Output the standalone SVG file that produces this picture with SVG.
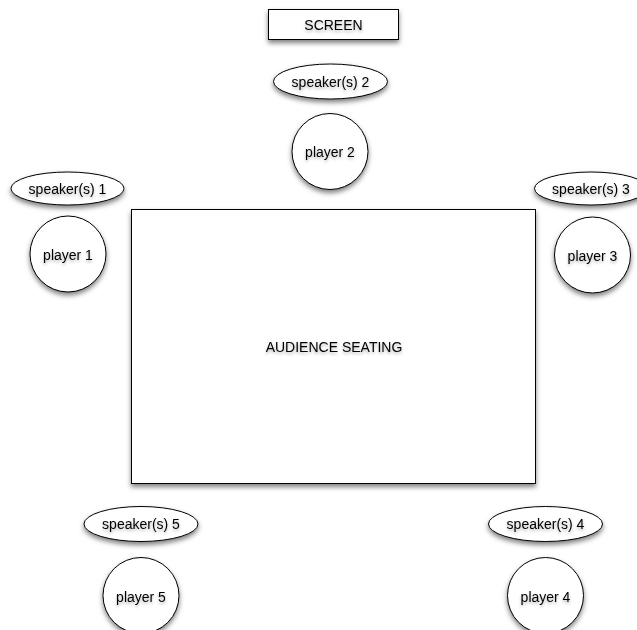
<svg xmlns="http://www.w3.org/2000/svg" width="637" height="630" viewBox="0 0 637 630">
<defs>
<filter id="sh" x="-30%" y="-30%" width="160%" height="170%">
<feDropShadow dx="0" dy="3" stdDeviation="2.5" flood-color="#000" flood-opacity="0.5"/>
</filter>
<filter id="ts" x="-10%" y="-30%" width="120%" height="170%">
<feDropShadow dx="0" dy="2" stdDeviation="1.5" flood-color="#000" flood-opacity="0.3"/>
</filter>
<style>
.s{fill:#fff;stroke:#000;stroke-width:1}
.t{font-family:"Liberation Sans",Arial,sans-serif;font-size:14px;fill:#000;text-anchor:middle;dominant-baseline:central;filter:url(#ts)}
.g{filter:url(#sh)}
</style>
</defs>
<rect width="637" height="630" fill="#fff"/>
<g id="screen"><rect class="s g" x="268.5" y="9.5" width="130" height="30"/><text class="t" x="333.5" y="24.5">SCREEN</text></g>
<g id="audience"><rect class="s g" x="131.5" y="209.5" width="404" height="274"/><text class="t" x="334" y="347">AUDIENCE SEATING</text></g>
<g id="speaker2"><ellipse class="s g" cx="330.5" cy="81.5" rx="57" ry="17.5"/><text class="t" x="330.5" y="81.5">speaker(s) 2</text></g>
<g id="player2"><circle class="s g" cx="330" cy="151.5" r="38"/><text class="t" x="330" y="152">player 2</text></g>
<g id="speaker1"><ellipse class="s g" cx="67.5" cy="188.5" rx="56.5" ry="16.5"/><text class="t" x="67.5" y="188.5">speaker(s) 1</text></g>
<g id="player1"><circle class="s g" cx="68" cy="254" r="38"/><text class="t" x="68" y="255">player 1</text></g>
<g id="speaker3"><ellipse class="s g" cx="591" cy="188.5" rx="56.5" ry="16.5"/><text class="t" x="591" y="188.5">speaker(s) 3</text></g>
<g id="player3"><circle class="s g" cx="592.5" cy="255" r="38"/><text class="t" x="592.5" y="256">player 3</text></g>
<g id="speaker5"><ellipse class="s g" cx="141" cy="524" rx="57" ry="17.5"/><text class="t" x="141" y="524">speaker(s) 5</text></g>
<g id="player5"><circle class="s g" cx="141" cy="595.5" r="38"/><text class="t" x="141" y="597">player 5</text></g>
<g id="speaker4"><ellipse class="s g" cx="545.5" cy="524" rx="57" ry="17.5"/><text class="t" x="545.5" y="524">speaker(s) 4</text></g>
<g id="player4"><circle class="s g" cx="545.5" cy="595.5" r="38"/><text class="t" x="545.5" y="597">player 4</text></g>
<g id="connectors"/>
</svg>
